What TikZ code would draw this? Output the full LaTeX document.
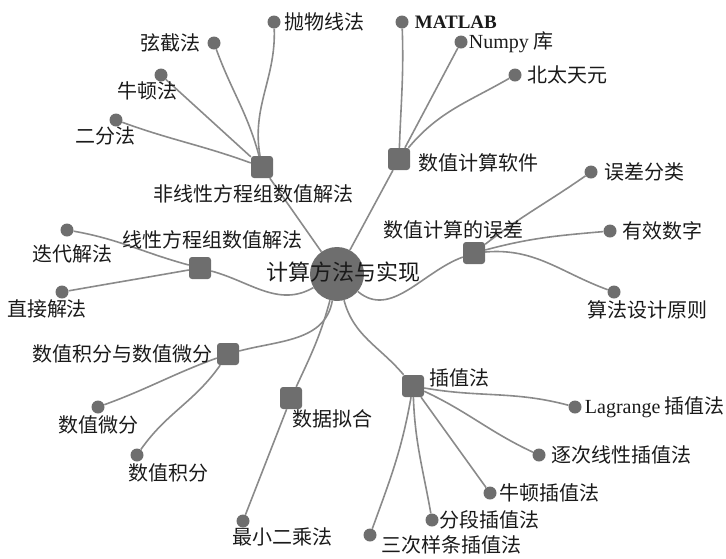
\documentclass[tikz,border=0pt]{standalone}
\usepackage{fontspec}
\setmainfont{Noto Sans CJK SC}
\newfontfamily\latinfont{Liberation Serif}
\usepackage{tikz}
\usetikzlibrary{positioning}
\definecolor{nodegray}{HTML}{6E6E6E}
\definecolor{linkgray}{HTML}{8A8A8A}
\definecolor{ink}{HTML}{1A1A1A}
\newcommand\lbl{\fontsize{20}{22}\selectfont}

\begin{document}
\begin{tikzpicture}[x=1pt,y=-1pt,
  root/.style={circle,fill=nodegray,minimum size=54pt,inner sep=0pt},
  hub/.style={rectangle,rounded corners=3pt,fill=nodegray,minimum size=22pt,inner sep=0pt},
  leaf/.style={circle,fill=nodegray,minimum size=13pt,inner sep=0pt},
  txt/.style={inner sep=0pt,text=ink,font=\lbl},
  link/.style={draw=linkgray,line width=1.6pt}]
\useasboundingbox (0,0) rectangle (726,558);
% centre and hubs
\node[root] (root) at (337,274) {};
\node[hub] (nonlin) at (262,167) {};
\node[hub] (soft) at (399,159) {};
\node[hub] (err) at (474,253) {};
\node[hub] (lin) at (200,268) {};
\node[hub] (integ) at (228,354) {};
\node[hub] (fit) at (291,398) {};
\node[hub] (interp) at (413,386) {};
% leaves
\node[leaf] (parab) at (274,22) {};
\node[leaf] (secant) at (214,43) {};
\node[leaf] (newton) at (161,75) {};
\node[leaf] (bisect) at (116,120) {};
\node[leaf] (matlab) at (402,22) {};
\node[leaf] (numpy) at (461,42) {};
\node[leaf] (beitai) at (515,75) {};
\node[leaf] (errcls) at (591,172) {};
\node[leaf] (sigdig) at (610,231) {};
\node[leaf] (design) at (614,292) {};
\node[leaf] (iter) at (67,230) {};
\node[leaf] (direct) at (62,292) {};
\node[leaf] (diff) at (98,407) {};
\node[leaf] (quad) at (137,455) {};
\node[leaf] (lsq) at (243,521) {};
\node[leaf] (lagr) at (575,407) {};
\node[leaf] (succ) at (539,455) {};
\node[leaf] (newtint) at (490,493) {};
\node[leaf] (piece) at (432,520) {};
\node[leaf] (spline) at (370,535) {};
% links
\draw[link] (root) -- (nonlin);
\draw[link] (root) -- (soft);
\draw[link] (root) to[out=-40,in=200] (err);
\draw[link] (root) to[out=-150,in=-15] (lin);
\draw[link] (root) to[out=-100,in=15] (integ);
\draw[link] (root) to[out=-105,in=65] (fit);
\draw[link] (root) to[out=-75,in=130] (interp);
\draw[link] (nonlin) to[out=100,in=-88] (parab);
\draw[link] (nonlin) to[out=105,in=-70] (secant);
\draw[link] (nonlin) -- (newton);
\draw[link] (nonlin) to[out=160,in=-20] (bisect);
\draw[link] (soft) to[out=88,in=-88] (matlab);
\draw[link] (soft) -- (numpy);
\draw[link] (soft) to[out=50,in=-150] (beitai);
\draw[link] (err) to[out=38,in=-145] (errcls);
\draw[link] (err) to[out=15,in=-175] (sigdig);
\draw[link] (err) to[out=5,in=160] (design);
\draw[link] (lin) to[out=165,in=-10] (iter);
\draw[link] (lin) to[out=190,in=10] (direct);
\draw[link] (integ) to[out=200,in=20] (diff);
\draw[link] (integ) to[out=-125,in=55] (quad);
\draw[link] (fit) -- (lsq);
\draw[link] (interp) to[out=-10,in=165] (lagr);
\draw[link] (interp) to[out=-25,in=155] (succ);
\draw[link] (interp) -- (newtint);
\draw[link] (interp) to[out=-88,in=100] (piece);
\draw[link] (interp) to[out=-100,in=70] (spline);
% labels
\node[txt,font=\fontsize{22}{24}\selectfont] (troot) at ([xshift=6pt,yshift=2pt]root) {计算方法与实现};
\node[txt,below=6pt of nonlin,xshift=-9pt] (tnonlin) {非线性方程组数值解法};
\node[txt,right=8pt of soft,yshift=-4pt] (tsoft) {数值计算软件};
\node[txt,above=2pt of err,xshift=-21pt] (terr) {数值计算的误差};
\node[txt,above=7pt of lin,xshift=12pt] (tlin) {线性方程组数值解法};
\node[txt,left=4pt of integ] (tinteg) {数值积分与数值微分};
\node[txt,below=0pt of fit,xshift=41pt] (tfit) {数据拟合};
\node[txt,right=5pt of interp,yshift=8pt] (tinterp) {插值法};
\node[txt,right=4pt of parab] (tparab) {抛物线法};
\node[txt,left=7pt of secant] (tsecant) {弦截法};
\node[txt,below=0pt of newton,xshift=-14pt] (tnewton) {牛顿法};
\node[txt,below=0pt of bisect,xshift=-11pt] (tbisect) {二分法};
\node[txt,right=6pt of matlab] (tmatlab) {\latinfont\bfseries\fontsize{19}{21}\selectfont MATLAB};
\node[txt,right=1pt of numpy] (tnumpy) {{\latinfont Numpy} 库};
\node[txt,right=6pt of beitai] (tbeitai) {北太天元};
\node[txt,right=7pt of errcls] (terrcls) {误差分类};
\node[txt,right=6pt of sigdig] (tsigdig) {有效数字};
\node[txt,below=2pt of design,xshift=33pt] (tdesign) {算法设计原则};
\node[txt,below=8pt of iter,xshift=5pt] (titer) {迭代解法};
\node[txt,below=1pt of direct,xshift=-15pt] (tdirect) {直接解法};
\node[txt,below=2pt of diff] (tdiff) {数值微分};
\node[txt,below=2pt of quad,xshift=31pt] (tquad) {数值积分};
\node[txt,below=0pt of lsq,xshift=39pt] (tlsq) {最小二乘法};
\node[txt,right=3pt of lagr] (tlagr) {{\latinfont Lagrange} 插值法};
\node[txt,right=6pt of succ] (tsucc) {逐次线性插值法};
\node[txt,right=3pt of newtint] (tnewtint) {牛顿插值法};
\node[txt,right=1pt of piece] (tpiece) {分段插值法};
\node[txt,right=5pt of spline,yshift=-10pt] (tspline) {三次样条插值法};
\end{tikzpicture}
\end{document}
